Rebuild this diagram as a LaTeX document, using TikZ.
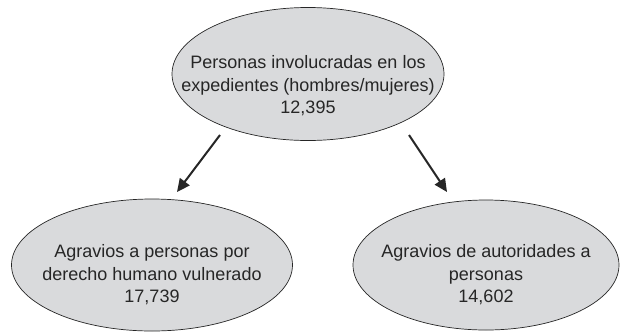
\documentclass[tikz,border=0pt]{standalone}
\usepackage{fontspec}
\setmainfont{Liberation Sans}
\usetikzlibrary{shapes.geometric,arrows.meta}
\definecolor{ellfill}{HTML}{D9DADC}
\definecolor{ink}{HTML}{262626}
\begin{document}
\begin{tikzpicture}[x=1pt,y=-1pt,
  bub/.style={ellipse,draw=ink,line width=0.7pt,fill=ellfill,inner sep=0pt},
  txt/.style={text=ink,align=center,inner sep=0pt,font=\fontsize{18}{22.5}\selectfont},
  arr/.style={draw=ink,line width=2pt,-{Triangle[length=13pt,width=12pt]}}]
\useasboundingbox (0,0) rectangle (621,333);
\node[bub,minimum width=272pt,minimum height=133pt] (top) at (308,74) {};
\node[txt] (toptext) at (308,86)
  {Personas involucradas en los\\expedientes (hombres/mujeres)\\12,395};
\node[bub,minimum width=281pt,minimum height=132pt] (left) at (152,265) {};
\node[txt] (lefttext) at (152,275)
  {Agravios a personas por\\derecho humano vulnerado\\17,739};
\node[bub,minimum width=266pt,minimum height=130pt] (right) at (486,265) {};
\node[txt] (righttext) at (486,275)
  {Agravios de autoridades a\\personas\\14,602};
\coordinate (a1s) at (220,135);
\coordinate (a1e) at (177,192);
\coordinate (a2s) at (409,135);
\coordinate (a2e) at (447,192);
\draw[arr] (a1s) -- (a1e);
\draw[arr] (a2s) -- (a2e);
\end{tikzpicture}
\end{document}
